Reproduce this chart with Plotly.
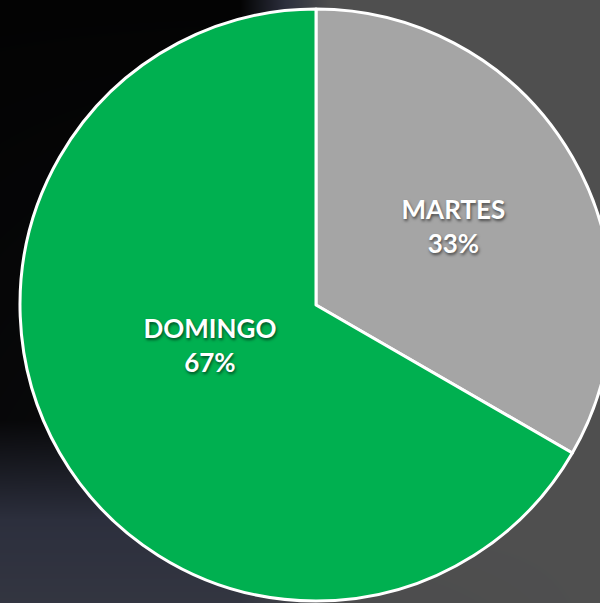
import plotly.graph_objects as go

labels = ["MARTES", "DOMINGO"]
values = [1, 2]
colors = ["#A5A5A5", "#00B050"]

# background (decorative photo-like backdrop)
bg_x = [0, 240, 330, 612]
bg_y = [0, 420, 520, 603]
bg_z = [
    [0.0, 0.0, 1.0, 1.0],
    [0.05, 0.1, 1.0, 1.0],
    [0.5, 0.5, 1.0, 1.0],
    [0.6, 0.6, 0.95, 1.0],
]

W, H = 612, 603
NB = "\u00a0"

fig = go.Figure()
fig.add_trace(go.Heatmap(
    x=bg_x, y=bg_y, z=bg_z, zsmooth="best", showscale=False, hoverinfo="skip",
    colorscale=[[0, "#030303"], [0.5, "#2c2f3d"], [1, "#4f4f4f"]], zmin=0, zmax=1,
))
fig.add_trace(go.Pie(
    labels=labels, values=values, sort=False, direction="clockwise", rotation=0,
    marker=dict(colors=colors, line=dict(color="white", width=3)),
    texttemplate=[
        "%{label}<br>%{percent:.0%}",
        NB * 7 + "%{label}<br>" + NB * 7 + "%{percent:.0%}<br>" + NB + "<br>" + NB,
    ],
    textposition="inside",
    insidetextorientation="horizontal",
    textfont=dict(family="Lato", size=26, color="white", weight="bold",
                  shadow="1px 2px 3px rgba(0,0,0,0.55)"),
    domain=dict(x=[20 / W, 1], y=[2 / H, 594 / H]),
    showlegend=False, hoverinfo="label+percent",
))
fig.update_layout(
    width=W, height=H, margin=dict(l=0, r=0, t=0, b=0),
    paper_bgcolor="#030303", plot_bgcolor="#030303",
    xaxis=dict(visible=False, range=[0, W], domain=[0, 1]),
    yaxis=dict(visible=False, range=[H, 0], domain=[0, 1]),
    uniformtext=dict(minsize=26, mode="show"),
)
fig.write_html(
    "out.html",
    config={"displayModeBar": False},
    post_script="document.body.style.margin='0';document.body.style.overflow='hidden';document.documentElement.style.overflow='hidden';",
)
